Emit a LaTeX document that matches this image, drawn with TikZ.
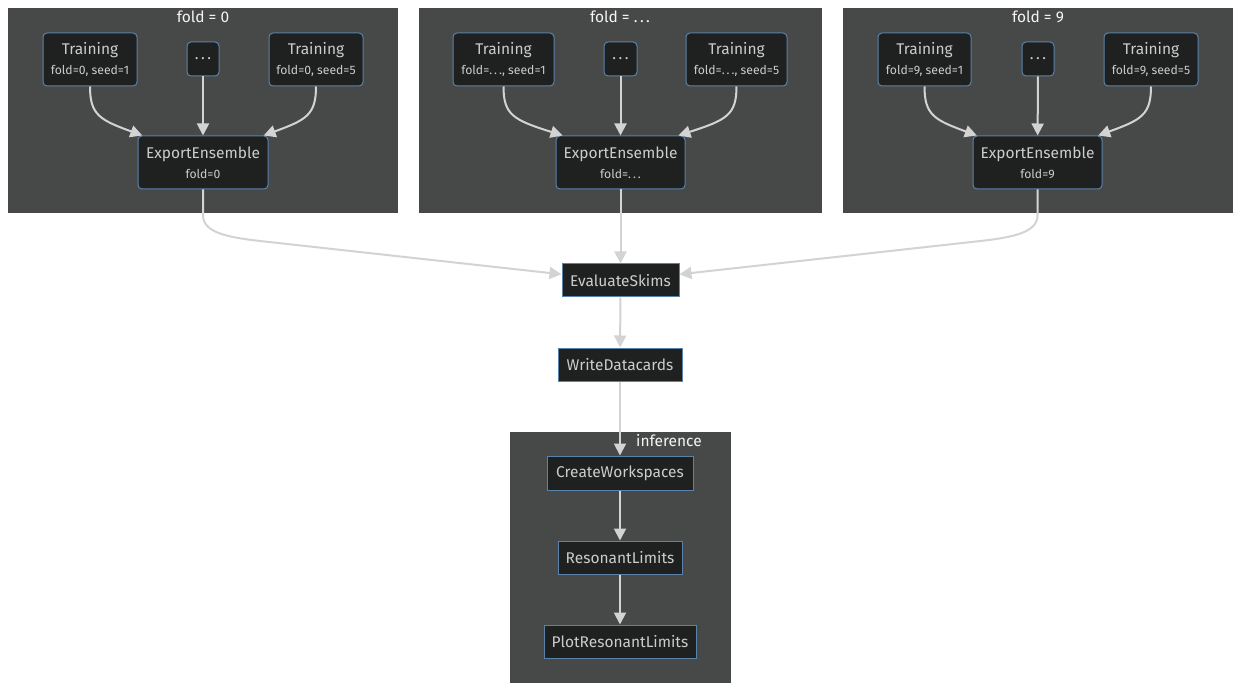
\documentclass[tikz,border=0pt]{standalone}
\usepackage{fontspec}
\setmainfont{Fira Sans}
\usetikzlibrary{arrows.meta,positioning}
\definecolor{clusterbg}{HTML}{474949}
\definecolor{nodebg}{HTML}{1F2020}
\definecolor{nodeline}{HTML}{5B83AA}
\definecolor{edgegray}{HTML}{D3D3D3}
\definecolor{labelgray}{HTML}{CCCCCC}
\definecolor{titlewhite}{HTML}{F4F4F4}
\newcommand{\tasklabel}[2]{#1\\[2pt]{\fontsize{12.2}{14}\selectfont #2}}
\newcommand{\spdots}{.\kern0.16em.\kern0.16em.}

\begin{document}
\begin{tikzpicture}[x=1pt,y=-1pt,line width=1pt,
  task/.style={draw=nodeline,fill=nodebg,text=labelgray,rounded corners=4pt,
    align=center,inner sep=0pt,font=\fontsize{15.5}{18}\selectfont},
  plain/.style={draw=nodeline,fill=nodebg,text=labelgray,inner sep=0pt,
    minimum height=33,font=\fontsize{15.5}{18}\selectfont},
  clustertitle/.style={text=titlewhite,inner sep=0pt,font=\fontsize{15.5}{18}\selectfont},
  edge/.style={draw=edgegray,line width=2pt,-{Triangle[length=12pt,width=12pt]}}]
\useasboundingbox[fill=white] (0,0) rectangle (1241,692);
% clusters
\fill[clusterbg] (8,8) rectangle (398,213);
\fill[clusterbg] (419,8) rectangle (822,213);
\fill[clusterbg] (843,8) rectangle (1233,213);
\fill[clusterbg] (510,432) rectangle (731,683);
\node[clustertitle] (tf0) at (203,17) {fold = 0};
\node[clustertitle] (tfx) at (620,17) {fold = \spdots};
\node[clustertitle] (tf9) at (1038,17) {fold = 9};
\node[clustertitle] (tinf) at (669,441) {inference};
% fold = 0
\node[task,minimum width=94,minimum height=53] (t01) at (90,59.5) {\tasklabel{Training}{fold=0, seed=1}};
\node[task,minimum width=32,minimum height=34] (d0) at (203,59) {\spdots};
\node[task,minimum width=94,minimum height=53] (t05) at (316,59.5) {\tasklabel{Training}{fold=0, seed=5}};
\node[task,minimum width=130,minimum height=53] (e0) at (203,162.5) {\tasklabel{ExportEnsemble}{fold=0}};
% fold = ...
\node[task,minimum width=101,minimum height=53] (tx1) at (503.5,59.5) {\tasklabel{Training}{fold=\spdots, seed=1}};
\node[task,minimum width=33,minimum height=34] (dx) at (620.5,59) {\spdots};
\node[task,minimum width=101,minimum height=53] (tx5) at (736.5,59.5) {\tasklabel{Training}{fold=\spdots, seed=5}};
\node[task,minimum width=129,minimum height=53] (ex) at (620.5,162.5) {\tasklabel{ExportEnsemble}{fold=\spdots}};
% fold = 9
\node[task,minimum width=93,minimum height=53] (t91) at (924.5,59.5) {\tasklabel{Training}{fold=9, seed=1}};
\node[task,minimum width=32,minimum height=34] (d9) at (1038,59) {\spdots};
\node[task,minimum width=94,minimum height=53] (t95) at (1151,59.5) {\tasklabel{Training}{fold=9, seed=5}};
\node[task,minimum width=129,minimum height=53] (e9) at (1037.5,162.5) {\tasklabel{ExportEnsemble}{fold=9}};
% main chain
\node[plain,minimum width=117] (ev) at (620.5,280.5) {EvaluateSkims};
\node[plain,minimum width=124] (wd) at (620,364.5) {WriteDatacards};
\node[plain,minimum width=146,minimum height=34] (cw) at (620,473) {CreateWorkspaces};
\node[plain,minimum width=124] (rl) at (620,557.5) {ResonantLimits};
\node[plain,minimum width=152] (prl) at (620,641.5) {PlotResonantLimits};
% edges
\draw[edge] (t01.south) .. controls (90,115) and (100,120) .. (e0.156);
\draw[edge] (d0) -- (e0);
\draw[edge] (t05.south) .. controls (316,115) and (306,120) .. (e0.24);
\draw[edge] (tx1.south) .. controls (503.5,115) and (513.5,120) .. (ex.155);
\draw[edge] (dx) -- (ex);
\draw[edge] (tx5.south) .. controls (736.5,115) and (726.5,120) .. (ex.25);
\draw[edge] (t91.south) .. controls (924.5,115) and (934.5,120) .. (e9.156);
\draw[edge] (d9) -- (e9);
\draw[edge] (t95.south) .. controls (1151,115) and (1141,120) .. (e9.24);
\draw[edge] (e0.south) -- (203,215) .. controls (203,232) and (225,237) .. (260,241) -- (ev.174);
\draw[edge] (ex) -- (ev);
\draw[edge] (e9.south) -- (1037.5,215) .. controls (1037.5,232) and (1015.5,237) .. (980.5,241) -- (ev.6);
\draw[edge] (ev) -- (wd);
\draw[edge] (wd) -- (cw);
\draw[edge] (cw) -- (rl);
\draw[edge] (rl) -- (prl);
\end{tikzpicture}
\end{document}
